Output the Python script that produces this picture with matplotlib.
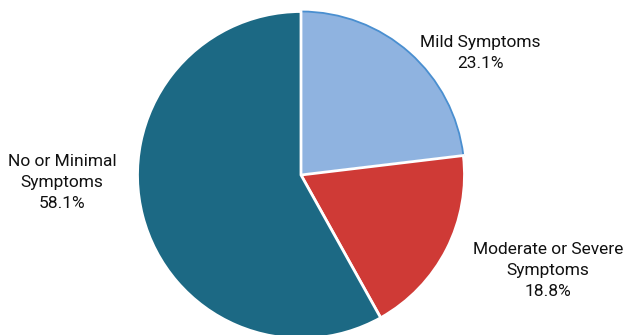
import matplotlib
matplotlib.use("Agg")
import matplotlib.pyplot as plt
from matplotlib import font_manager

categories = ["Mild Symptoms", "Moderate or Severe\nSymptoms", "No or Minimal\nSymptoms"]
shares = [23.1, 18.8, 58.1]
colors = ["#8fb3e0", "#cf3a36", "#1c6984"]

names = {f.name for f in font_manager.fontManager.ttflist}
family = "Liberation Sans Narrow" if "Liberation Sans Narrow" in names else "Roboto"
plt.rcParams["font.family"] = [family, "DejaVu Sans"]

W, H = 642, 335
fig = plt.figure(figsize=(6.42, 3.35), dpi=100)
ax = fig.add_axes([0, 0, 1, 1])

# pixel-style layout, y measured from the top of the image
wedges, _ = ax.pie(shares, colors=colors, startangle=90, counterclock=False,
                   center=(301, H - 175), radius=163.5,
                   wedgeprops=dict(edgecolor="white", linewidth=2))
wedges[0].set_edgecolor("#4a8fd0")
wedges[0].set_linewidth(1.3)
ax.set_xlim(0, W)
ax.set_ylim(0, H)
ax.set_aspect("equal")
ax.axis("off")

label_pos = [(480, 53), (548, 270), (62, 183)]
for name, val, (x, y) in zip(categories, shares, label_pos):
    ax.text(x, H - y, f"{name}\n{val:.1f}%", ha="center", va="center",
            fontsize=12.5, color="#111111", linespacing=1.5)

fig.savefig("out.png", dpi=100)
plt.close(fig)
